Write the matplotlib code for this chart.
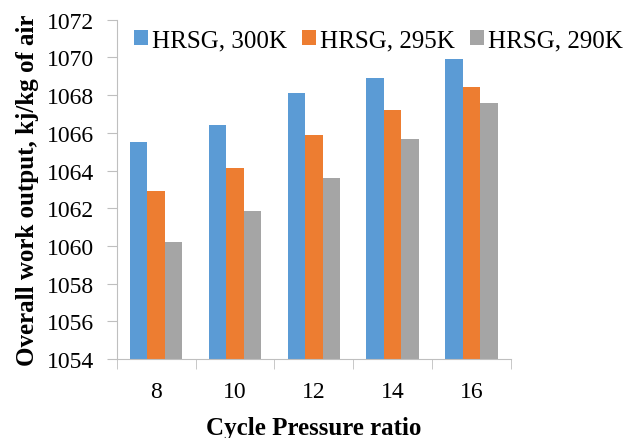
import numpy as np
import matplotlib.pyplot as plt
from matplotlib.ticker import FixedLocator

# Данные
ratios = ['8', '10', '12', '14', '16']
series_names = ['HRSG, 300K', 'HRSG, 295K', 'HRSG, 290K']
hrsg_300 = [1065.49, 1066.39, 1068.09, 1068.89, 1069.91]
hrsg_295 = [1062.90, 1064.12, 1065.86, 1067.19, 1068.43]
hrsg_290 = [1060.23, 1061.84, 1063.61, 1065.65, 1067.56]
colors = ['#5b9bd5', '#ed7d31', '#a5a5a5']

plt.rcParams['font.family'] = ['Liberation Serif', 'DejaVu Serif']

fig = plt.figure(figsize=(6.39, 4.39), dpi=100)
ax = fig.add_axes([0.1826, 0.18, 0.6171, 0.7728])

x = np.arange(len(ratios))
w = 0.222
for k, (vals, name, c) in enumerate(zip([hrsg_300, hrsg_295, hrsg_290], series_names, colors)):
    ax.bar(x + (k - 1) * w, np.array(vals) - 1054, width=w, bottom=1054,
           color=c, label=name, zorder=2)

ax.set_ylim(1054, 1072)
ax.set_yticks(np.arange(1054, 1073, 2))
ax.set_xlim(-0.5, len(ratios) - 0.5)
ax.set_xticks(x)
ax.set_xticklabels(ratios)
ax.xaxis.set_minor_locator(FixedLocator(np.arange(-0.5, len(ratios), 1.0)))
ax.tick_params(axis='x', which='major', length=0, pad=16, labelsize=17)
ax.tick_params(axis='x', which='minor', length=7, color='#bfbfbf', direction='out')
ax.tick_params(axis='y', length=7, color='#bfbfbf', labelsize=17, pad=9)

for s in ['top', 'right']:
    ax.spines[s].set_visible(False)
for s in ['left', 'bottom']:
    ax.spines[s].set_color('#bfbfbf')

ax.set_xlabel('Cycle Pressure ratio', fontsize=18, fontweight='bold', labelpad=10)
ax.set_ylabel('Overall work output, kj/kg of air', fontsize=18, fontweight='bold', labelpad=6)

fig.legend(loc='center left', bbox_to_anchor=(0.209, 0.906), ncol=3, frameon=False,
           fontsize=18, handlelength=0.56, handleheight=0.56, handletextpad=0.17,
           columnspacing=0.6, borderaxespad=0, borderpad=0)

fig.savefig('out.png', dpi=100)
